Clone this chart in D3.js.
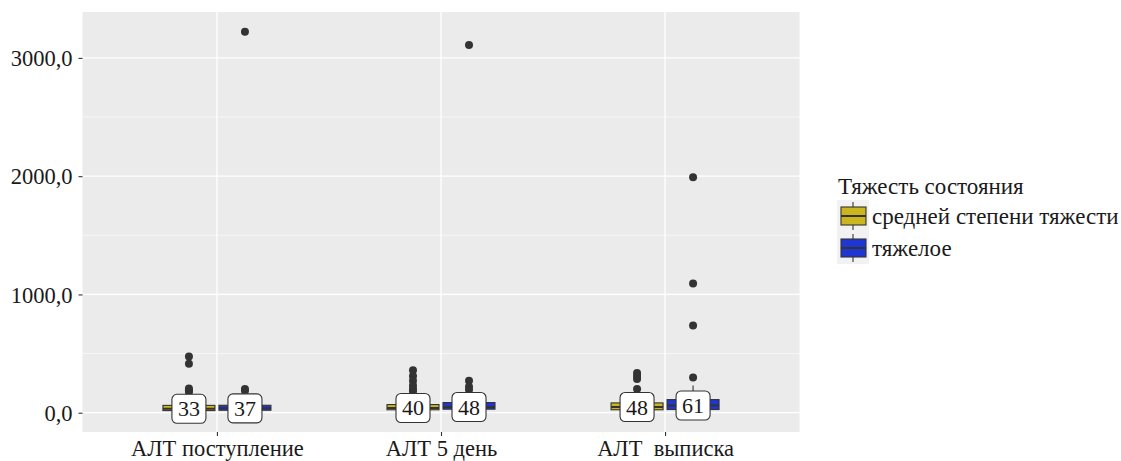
<!DOCTYPE html>
<html><head><meta charset="utf-8">
<script src="https://cdnjs.cloudflare.com/ajax/libs/d3/7.8.5/d3.min.js"></script>
<style>body{margin:0;background:#fff}svg text{font-family:"Liberation Serif",serif;fill:#1a1a1a}</style>
</head><body><svg id="c" width="1121" height="461"></svg>
<script>
const categories = ["АЛТ поступление", "АЛТ 5 день", "АЛТ  выписка"];
const groups = ["средней степени тяжести", "тяжелое"];
const colors = ["#cbb61f", "#1f36d3"];
const yTicks = [0, 1000, 2000, 3000];
const yTickLabels = ["0,0", "1000,0", "2000,0", "3000,0"];
const q1 = [[18, 21], [25, 30], [25, 27]];
const medians = [[33, 37], [40, 48], [48, 61]];
const q3 = [[62, 63], [69, 86], [83, 111]];
const whiskLo = [[5, 6], [8, 9], [9, 8]];
const whiskHi = [[140, 130], [150, 170], [160, 230]];
const outliers = [
  [[475, 415, 204, 190, 175], [3220, 200, 185]],
  [[360, 310, 270, 230, 200, 180], [3110, 270, 220, 195]],
  [[335, 310, 285, 200], [1990, 1093, 738, 297]]
];
const legendTitle = "Тяжесть состояния";

const FS = 22.5, LFS = 23;
const svg = d3.select("#c");
const P = {l: 82.5, r: 799.5, t: 12, b: 432};
const x = d3.scaleLinear().domain([-0.6, categories.length - 1 + 0.6]).range([P.l, P.r]);
const y = d3.scaleLinear().domain([-163, 3388]).range([P.b, P.t]);

svg.append("rect").attr("x", P.l).attr("y", P.t).attr("width", P.r - P.l).attr("height", P.b - P.t).attr("fill", "#ebebeb");
const g = svg.append("g");
[500, 1500, 2500].forEach(v => g.append("line").attr("x1", P.l).attr("x2", P.r).attr("y1", y(v)).attr("y2", y(v)).attr("stroke", "#fff").attr("stroke-width", 0.6));
yTicks.forEach(v => g.append("line").attr("x1", P.l).attr("x2", P.r).attr("y1", y(v)).attr("y2", y(v)).attr("stroke", "#fff").attr("stroke-width", 1.3));
categories.forEach((c, i) => g.append("line").attr("x1", x(i)).attr("x2", x(i)).attr("y1", P.t).attr("y2", P.b).attr("stroke", "#fff").attr("stroke-width", 1.3));

// axes
const ya = d3.axisLeft(y).tickValues(yTicks).tickFormat((d, i) => yTickLabels[i]).tickSize(4).tickPadding(6);
const yg = svg.append("g").attr("transform", `translate(${P.l},0)`).call(ya);
yg.select(".domain").remove();
yg.selectAll("line").attr("stroke", "#333").attr("stroke-width", 1.1);
yg.selectAll("text").attr("font-size", FS).attr("fill", "#1a1a1a").attr("dy", "0.34em").style("font-family", "Liberation Serif");
const xa = d3.axisBottom(x).tickValues(categories.map((c, i) => i)).tickFormat(i => categories[i]).tickSize(4).tickPadding(3);
const xg = svg.append("g").attr("transform", `translate(0,${P.b})`).call(xa);
xg.select(".domain").remove();
xg.selectAll("line").attr("stroke", "#333").attr("stroke-width", 1.1);
xg.selectAll("text").attr("font-size", FS).attr("fill", "#1a1a1a").attr("dy", "0.75em").style("font-family", "Liberation Serif").style("white-space", "pre");

// boxes
const off = [-0.125, 0.125], bw = 0.232;
categories.forEach((c, i) => {
  groups.forEach((gname, j) => {
    const cx = x(i + off[j]);
    const hw = (x(bw) - x(0)) / 2;
    g.append("line").attr("x1", cx).attr("x2", cx).attr("y1", y(q3[i][j])).attr("y2", y(whiskHi[i][j])).attr("stroke", "#333").attr("stroke-width", 1.1);
    g.append("line").attr("x1", cx).attr("x2", cx).attr("y1", y(q1[i][j])).attr("y2", y(whiskLo[i][j])).attr("stroke", "#333").attr("stroke-width", 1.1);
    g.append("rect").attr("x", cx - hw).attr("y", y(q3[i][j])).attr("width", 2 * hw).attr("height", y(q1[i][j]) - y(q3[i][j]))
      .attr("fill", colors[j]).attr("stroke", "#333").attr("stroke-width", 1.1);
    g.append("line").attr("x1", cx - hw).attr("x2", cx + hw).attr("y1", y(medians[i][j])).attr("y2", y(medians[i][j])).attr("stroke", "#333").attr("stroke-width", 2);
    outliers[i][j].forEach(v => g.append("circle").attr("cx", cx).attr("cy", y(v)).attr("r", 4).attr("fill", "#333"));
  });
});
// labels
categories.forEach((c, i) => {
  groups.forEach((gname, j) => {
    const cx = x(i + off[j]), cy = y(medians[i][j]);
    g.append("rect").attr("x", cx - 17).attr("y", cy - 14.5).attr("width", 34).attr("height", 29).attr("rx", 5)
      .attr("fill", "#fff").attr("stroke", "#333").attr("stroke-width", 1.1);
    g.append("text").attr("x", cx).attr("y", cy + 7.5).attr("text-anchor", "middle").attr("font-size", 22).text(medians[i][j]);
  });
});

// legend
const lg = svg.append("g");
lg.append("text").attr("x", 838).attr("y", 194).attr("font-size", LFS).text(legendTitle);
groups.forEach((gname, j) => {
  const ty = 200 + j * 32;
  lg.append("rect").attr("x", 837).attr("y", ty).attr("width", 32).attr("height", 32).attr("fill", "#f2f2f2");
  lg.append("line").attr("x1", 853).attr("x2", 853).attr("y1", ty + 2).attr("y2", ty + 30).attr("stroke", "#333").attr("stroke-width", 1.1);
  lg.append("rect").attr("x", 841).attr("y", ty + 7).attr("width", 25).attr("height", 18).attr("fill", colors[j]).attr("stroke", "#333").attr("stroke-width", 1.1);
  lg.append("line").attr("x1", 841).attr("x2", 866).attr("y1", ty + 16).attr("y2", ty + 16).attr("stroke", "#333").attr("stroke-width", 2);
  lg.append("text").attr("x", 872).attr("y", ty + 24).attr("font-size", LFS).text(gname);
});
</script></body></html>
